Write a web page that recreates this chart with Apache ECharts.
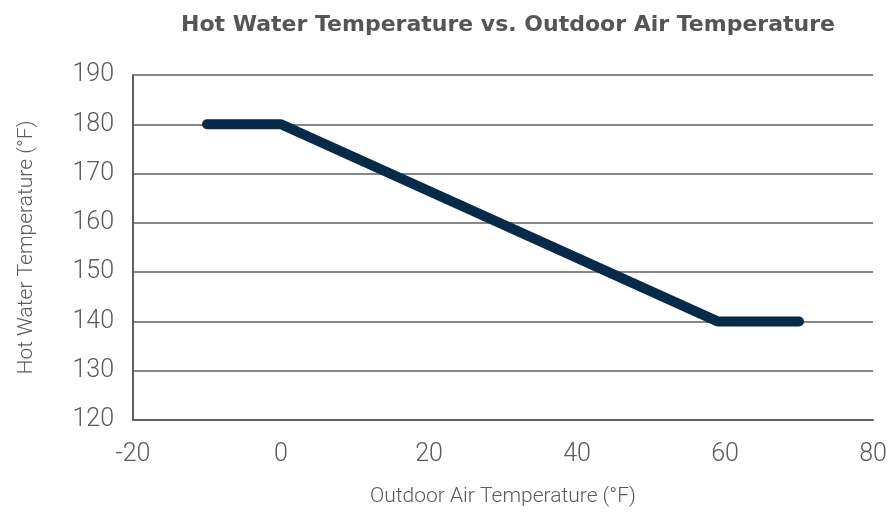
<!DOCTYPE html>
<html>
<head>
<meta charset="utf-8">
<script src="https://cdn.jsdelivr.net/npm/echarts@6/dist/echarts.min.js"></script>
<style>
  html, body { margin: 0; padding: 0; background: #fff; }
  #chart { width: 893px; height: 520px; }
</style>
</head>
<body>
<div id="chart"></div>
<script>
// reset curve: outdoor air temp (F) -> hot water temp (F)
var outdoorTemp = [-10, 0, 59, 70];
var waterTemp = [180, 180, 140, 140];

var chart = echarts.init(document.getElementById('chart'));
var points = outdoorTemp.map(function (x, i) { return [x, waterTemp[i]]; });

var labelFont = { fontFamily: 'Roboto', fontWeight: 300, fontSize: 25, color: '#5a5a5a' };
var nameFont = { fontFamily: 'Roboto', fontWeight: 300, fontSize: 21, color: '#5a5a5a' };

var option = {
  animation: false,
  title: {
    text: 'Hot Water Temperature vs. Outdoor Air Temperature',
    left: 503,
    top: 9,
    textAlign: 'center',
    textStyle: { fontFamily: 'DejaVu Sans', fontWeight: 'bold', fontSize: 22, color: '#555' }
  },
  grid: { left: 133, right: 20, top: 75, bottom: 100 },
  xAxis: {
    type: 'value',
    min: -20,
    max: 80,
    interval: 20,
    name: 'Outdoor Air Temperature (°F)',
    nameLocation: 'middle',
    nameGap: 66,
    nameTextStyle: nameFont,
    axisLine: { lineStyle: { color: '#606060', width: 2 } },
    axisTick: { show: false },
    splitLine: { show: false },
    axisLabel: Object.assign({ margin: 22 }, labelFont)
  },
  yAxis: {
    type: 'value',
    min: 120,
    max: 190,
    interval: 10,
    name: 'Hot Water Temperature (°F)',
    nameLocation: 'middle',
    nameGap: 96,
    nameTextStyle: nameFont,
    axisLine: { show: true, onZero: false, lineStyle: { color: '#606060', width: 2 } },
    axisTick: { show: false },
    splitLine: { lineStyle: { color: '#5f5f5f', width: 1.5 } },
    axisLabel: Object.assign({ margin: 19 }, labelFont)
  },
  series: [{
    type: 'line',
    data: points,
    showSymbol: false,
    lineStyle: { color: '#062a47', width: 10, cap: 'round', join: 'round' }
  }]
};
chart.setOption(option);
</script>
</body>
</html>
